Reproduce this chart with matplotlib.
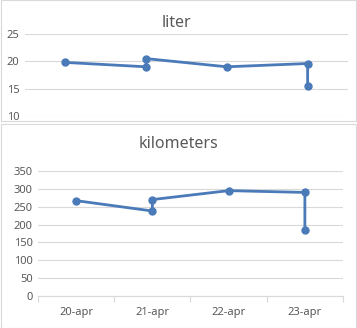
import matplotlib
matplotlib.use("Agg")
import matplotlib.pyplot as plt
from matplotlib.patches import Rectangle

categories = ["20-apr", "21-apr", "22-apr", "23-apr"]
point_cats = ["20-apr", "21-apr", "21-apr", "22-apr", "23-apr", "23-apr"]
liter = [19.8, 19.0, 20.5, 19.0, 19.6, 15.5]
kilometers = [267, 238, 270, 295, 290, 185]

W, H = 357, 328
fig = plt.figure(figsize=(W / 100, H / 100), dpi=100)
plt.rcParams['font.family'] = ['Noto Sans', 'DejaVu Sans']

LINE = "#4a7ab8"
GRID = "#d9d9d9"
TXT = "#595959"

def ax_px(x0, x1, ytop, ybot):
    return fig.add_axes([x0 / W, 1 - ybot / H, (x1 - x0) / W, (ybot - ytop) / H])

xpos = [categories.index(c) for c in point_cats]

# Outer frames
fig.add_artist(Rectangle((0.5 / W, 1 - 121 / H), (W - 1.5) / W, 120.5 / H, transform=fig.transFigure,
                         fill=False, edgecolor="#d9d9d9", lw=0.8))
fig.add_artist(Rectangle((0.5 / W, 0.5 / H), (W - 1.5) / W, (H - 124) / H, transform=fig.transFigure,
                         fill=False, edgecolor="#d9d9d9", lw=0.8))

def style(ax, ylim, yticks):
    ax.set_xlim(-0.5, 3.5)
    ax.set_ylim(*ylim)
    ax.set_yticks(yticks)
    for s in ax.spines.values():
        s.set_visible(False)
    ax.grid(axis="y", color=GRID, lw=0.8)
    ax.set_axisbelow(True)
    ax.tick_params(axis="y", length=0, labelsize=8, labelcolor=TXT, pad=4)
    ax.patch.set_alpha(0)

# Top chart
ax1 = ax_px(25, 348, 34, 116)
style(ax1, (10, 25), [10, 15, 20, 25])
ax1.set_xticks([])
ax1.plot(xpos, liter, color=LINE, lw=2.0, marker="o", ms=5, solid_joinstyle="round")
fig.text(176 / W, 1 - 23 / H, "liter", ha="center", va="center", fontsize=11.5, color=TXT)

# Bottom chart
ax2 = ax_px(38, 343, 171, 296)
style(ax2, (0, 350), list(range(0, 351, 50)))
ax2.set_xticks(range(len(categories)))
ax2.set_xticklabels(categories)
ax2.set_xticks([-0.5, 0.5, 1.5, 2.5, 3.5], minor=True)
ax2.tick_params(axis="x", which="major", length=0, labelsize=8, labelcolor=TXT, pad=8)
ax2.tick_params(axis="x", which="minor", length=4, color=GRID, width=0.8)
ax2.spines["bottom"].set_visible(True)
ax2.spines["bottom"].set_color(GRID)
ax2.plot(xpos, kilometers, color=LINE, lw=2.0, marker="o", ms=5, solid_joinstyle="round")
fig.text(178 / W, 1 - 144 / H, "kilometers", ha="center", va="center", fontsize=11.5, color=TXT)

fig.savefig("out.png", dpi=100)
